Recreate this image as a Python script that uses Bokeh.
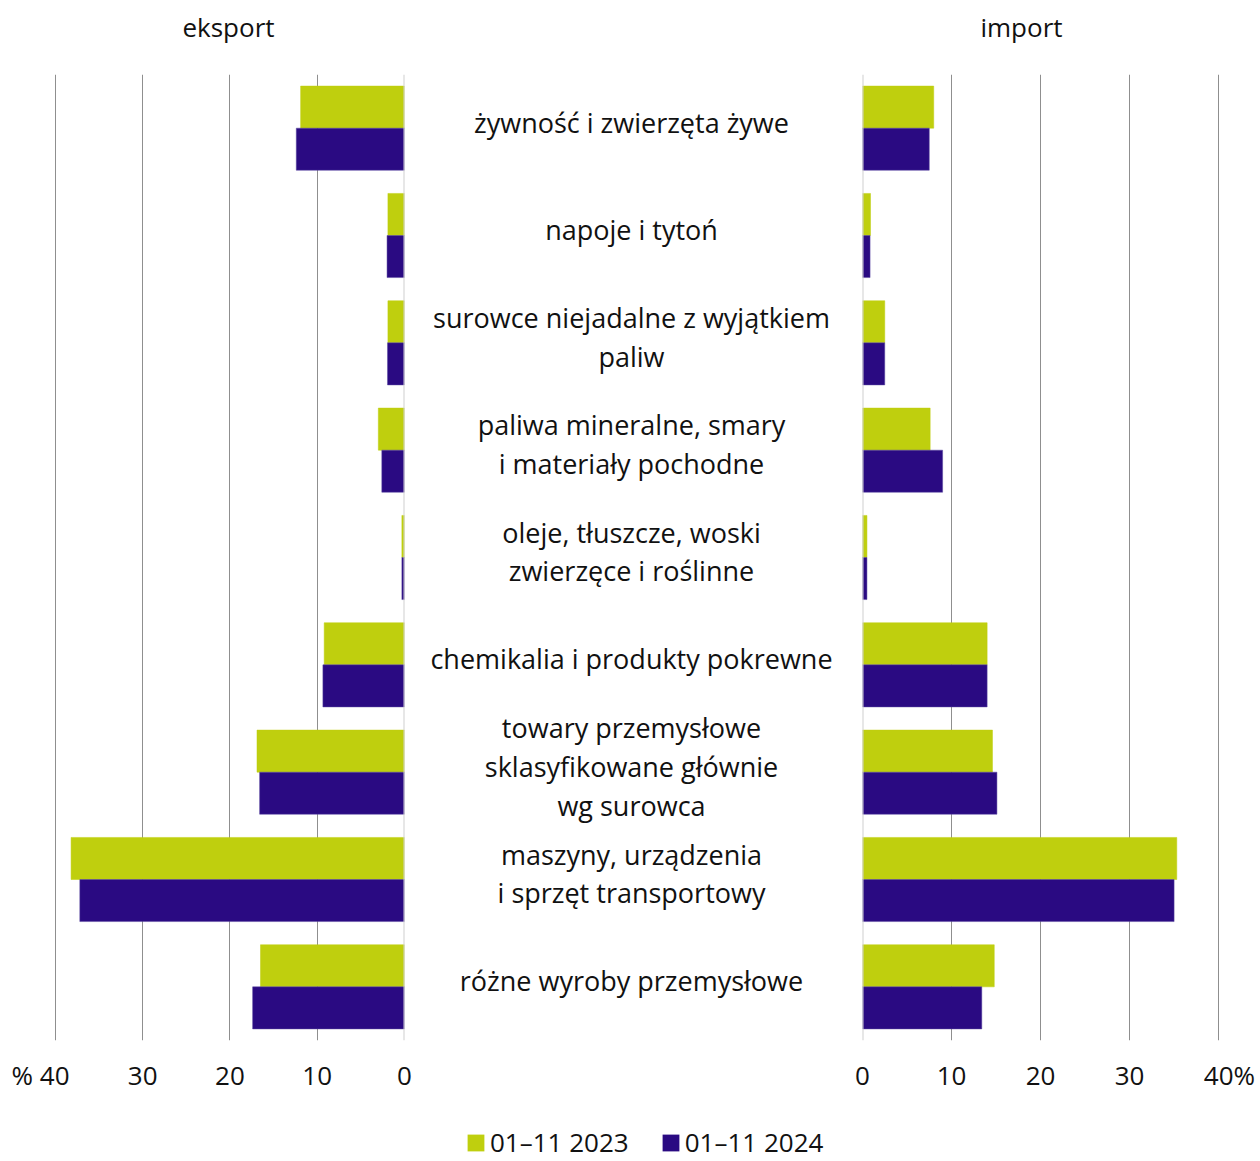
from bokeh.plotting import figure
from bokeh.models import (Range1d, FactorRange, ColumnDataSource, FixedTicker, Span,
                          Label, Legend, LegendItem)
from bokeh.transform import dodge
from bokeh.layouts import row, column
from bokeh.core.properties import value
from bokeh.embed import file_html
from bokeh.resources import INLINE

# ---------------- data ----------------
categories = [
    "żywność i zwierzęta żywe",
    "napoje i tytoń",
    "surowce niejadalne z wyjątkiem\npaliw",
    "paliwa mineralne, smary\ni materiały pochodne",
    "oleje, tłuszcze, woski\nzwierzęce i roślinne",
    "chemikalia i produkty pokrewne",
    "towary przemysłowe\nsklasyfikowane głównie\nwg surowca",
    "maszyny, urządzenia\ni sprzęt transportowy",
    "różne wyroby przemysłowe",
]
eksport_2023 = [11.9, 1.9, 1.9, 3.0, 0.3, 9.2, 16.9, 38.2, 16.5]
eksport_2024 = [12.4, 2.0, 1.95, 2.6, 0.3, 9.35, 16.6, 37.2, 17.4]
import_2023 = [8.0, 0.9, 2.5, 7.6, 0.5, 14.0, 14.6, 35.3, 14.8]
import_2024 = [7.5, 0.85, 2.5, 9.0, 0.5, 14.0, 15.1, 35.0, 13.4]
series_labels = ["01–11 2023", "01–11 2024"]
panel_titles = ["eksport", "import"]
x_ticks = [0, 10, 20, 30, 40]
left_tick_labels = {40: "% 40\u2007\u2007"}
right_tick_labels = {40: "\u2007\u200840%"}

FONT = "Open Sans"
GREEN = "#bfcf0e"
PURPLE = "#2a0a82"
GRID = "#8f8f8f"
ZERO = "#cfcfcf"
TXT = "#111111"

TOP_H = 56        # strip with the panel titles
MAIN_H = 1064     # row with the two panels and the category labels
BOT_H = 40        # strip with the legend
TOP = 18
BOTTOM = 80

src = ColumnDataSource(dict(cat=categories, e23=eksport_2023, e24=eksport_2024,
                            i23=import_2023, i24=import_2024))


def base_fig(width, xr, bl, br):
    p = figure(width=width, height=MAIN_H, x_range=xr,
               y_range=FactorRange(factors=list(reversed(categories))),
               output_backend="svg", toolbar_location=None,
               min_border_left=bl, min_border_right=br,
               min_border_top=TOP, min_border_bottom=BOTTOM)
    p.outline_line_color = None
    p.yaxis.visible = False
    p.ygrid.grid_line_color = None
    return p


def style_x(p, overrides):
    ax = p.xaxis[0]
    ax.ticker = FixedTicker(ticks=x_ticks)
    ax.major_label_overrides = overrides
    ax.axis_line_color = None
    ax.major_tick_line_color = None
    ax.minor_tick_line_color = None
    ax.major_label_text_font = FONT
    ax.major_label_text_font_size = "26px"
    ax.major_label_text_color = TXT
    ax.major_label_standoff = 10
    p.xgrid.ticker = FixedTicker(ticks=x_ticks)
    p.xgrid.grid_line_color = GRID
    p.xgrid.grid_line_width = 1


def bars(p, c23, c24):
    p.hbar(y=dodge("cat", 0.196, range=p.y_range), left=0, right=c23, height=0.392,
           source=src, fill_color=GREEN, line_color=GREEN, line_width=0.5)
    p.hbar(y=dodge("cat", -0.196, range=p.y_range), left=0, right=c24, height=0.392,
           source=src, fill_color=PURPLE, line_color="#5a48a0", line_width=0.5)
    p.add_layout(Span(location=0, dimension="height", line_color=ZERO, line_width=2))


def strip(width, height):
    s = figure(width=width, height=height, x_range=Range1d(0, 1), y_range=Range1d(0, 1),
               output_backend="svg", toolbar_location=None,
               min_border_left=0, min_border_right=0, min_border_top=0, min_border_bottom=0)
    s.axis.visible = False
    s.grid.visible = False
    s.outline_line_color = None
    return s


# ---------------- titles strip ----------------
top = strip(1258, TOP_H)
for x, t in zip([228, 1021], panel_titles):
    top.add_layout(Label(x=x, y=TOP_H / 2 + 2, x_units="screen", y_units="screen", text=t,
                         text_font=FONT, text_font_size="26px", text_color=TXT,
                         text_align="center", text_baseline="middle"))

# ---------------- left panel: eksport ----------------
pl = base_fig(420, Range1d(40.1, 0), 54, 16)
style_x(pl, left_tick_labels)
bars(pl, "e23", "e24")

# ---------------- middle: category labels ----------------
pm = base_fig(422, Range1d(0, 1), 0, 0)
pm.xaxis.visible = False
pm.xgrid.grid_line_color = None
pm.text(x=0.5, y="cat", text="cat", source=src, text_font=value(FONT),
        text_font_size="27px", text_color=TXT, text_align="center",
        text_baseline="middle", text_line_height=1.05, y_offset=-6)

# ---------------- right panel: import ----------------
pr = base_fig(416, Range1d(0, 40.1), 20, 39)
style_x(pr, right_tick_labels)
bars(pr, "i23", "i24")

# ---------------- legend strip ----------------
bot = strip(1258, BOT_H)
# zero-size proxies: they only lend their colours to the legend swatches
proxy = ColumnDataSource(dict(y=[0.5], l=[0], r=[0]))
r1 = bot.hbar(y="y", left="l", right="r", height=0.4, source=proxy,
              fill_color=GREEN, line_color=None)
r2 = bot.hbar(y="y", left="l", right="r", height=0.4, source=proxy,
              fill_color=PURPLE, line_color=None)
legend = Legend(items=[LegendItem(label=series_labels[0], renderers=[r1]),
                       LegendItem(label=series_labels[1], renderers=[r2])],
                location=(465, 0), orientation="horizontal",
                glyph_width=21, glyph_height=21, label_standoff=4, spacing=31,
                padding=0, margin=0, border_line_color=None, background_fill_alpha=0,
                label_text_font=FONT, label_text_font_size="26px", label_text_color=TXT)
bot.add_layout(legend)

layout = column(top, row(pl, pm, pr, spacing=0), bot, spacing=0)
open("out.html", "w").write(file_html(layout, INLINE))
